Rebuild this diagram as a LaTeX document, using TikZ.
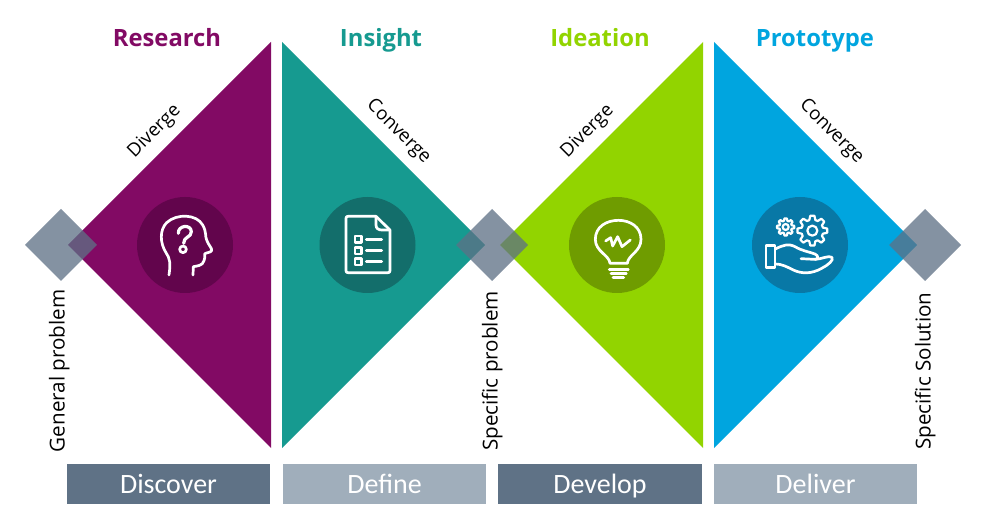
\documentclass[tikz,border=0pt]{standalone}
\usepackage{fontspec}
\setmainfont{Open Sans}
\newfontfamily\barfont{Carlito}
\definecolor{cpurple}{HTML}{820A64}
\definecolor{cteal}{HTML}{169A90}
\definecolor{cgreen}{HTML}{92D400}
\definecolor{cblue}{HTML}{00A5DF}
\definecolor{dpurple}{HTML}{62054C}
\definecolor{dteal}{HTML}{136E6B}
\definecolor{dgreen}{HTML}{6F9C00}
\definecolor{dblue}{HTML}{0878A6}
\definecolor{cdark}{HTML}{5F7286}
\definecolor{clight}{HTML}{A0AEBB}
\definecolor{cdiam}{HTML}{5E7186}
\tikzset{
  diam/.style={fill=cdiam,fill opacity=.76,draw=none},
  barbox/.style={minimum width=203.5pt,minimum height=40pt,inner sep=0pt,text=white,anchor=center,text height=18pt,text depth=0pt,font=\barfont\fontsize{28}{28}\selectfont},
  headlab/.style={font=\bfseries\fontsize{23.8}{23.8}\selectfont,inner sep=0pt,anchor=mid},
  sidelab/.style={font=\fontsize{20.6}{20.6}\selectfont,inner sep=0pt,text=black,anchor=mid},
  toplab/.style={font=\fontsize{18.6}{18.6}\selectfont,inner sep=0pt,text=black,anchor=mid},
  disc/.style={circle,minimum size=96pt,inner sep=0pt},
  icon/.style={draw=white,line width=2.7pt,line cap=round,line join=round,fill=none},
  zoomed/.style={shift={#1},x=.33333pt,y=-.33333pt}
}
\newcommand{\gearpath}[4]{% centre x,y, outer r, inner r
  \draw[icon,line width=2.2pt,shift={(#1,#2)}] (-8:#3)
  \foreach \a in {0,45,...,315}{
    -- ({\a+8}:#3) -- ({\a+16}:#4) -- ({\a+29}:#4) -- ({\a+37}:#3)
  } -- cycle;
}
\begin{document}
\begin{tikzpicture}[x=1pt,y=-1pt]
\useasboundingbox (0,0) rectangle (983,529);
\fill[white] (0,0) rectangle (983,529);
% triangles
\fill[cpurple] (271,42) -- (271,448) -- (68,245) -- cycle;
\fill[cteal] (282,42) -- (282,448) -- (485,245) -- cycle;
\fill[cgreen] (703,42) -- (703,448) -- (500,245) -- cycle;
\fill[cblue] (714,42) -- (714,448) -- (917,245) -- cycle;
% diamonds
\fill[diam] (61,209) -- (97,245) -- (61,281) -- (25,245) -- cycle;
\fill[diam] (492,209) -- (528,245) -- (492,281) -- (456,245) -- cycle;
\fill[diam] (925,209) -- (961,245) -- (925,281) -- (889,245) -- cycle;
% discs
\node[disc,fill=dpurple] (d1) at (185,245) {};
\node[disc,fill=dteal] (d2) at (367.5,245) {};
\node[disc,fill=dgreen] (d3) at (617,245) {};
\node[disc,fill=dblue] (d4) at (800,245) {};
% head icon
\begin{scope}[zoomed={(20,180)}]
\draw[icon] (447,285) .. controls (452,250) and (450,235) .. (438,218)
  .. controls (420,190) and (418,150) .. (440,128)
  .. controls (470,100) and (530,102) .. (548,135)
  .. controls (560,155) and (555,170) .. (560,180)
  .. controls (565,195) and (577,205) .. (575,212)
  .. controls (572,218) and (556,218) .. (554,222)
  .. controls (552,230) and (558,235) .. (552,242)
  .. controls (548,258) and (530,258) .. (520,260)
  -- (519,285);
\draw[icon,line width=3.2pt] (475,160) .. controls (474,135) and (513,132) .. (514,155)
  .. controls (515,172) and (490,170) .. (491,190);
\draw[icon] (489,208) circle[radius=10];
\end{scope}
% document icon
\begin{scope}[zoomed={(300,180)}]
\draw[icon] (228,109) -- (144,109) .. controls (140,109) and (138,111) .. (138,115)
  -- (138,272) .. controls (138,276) and (140,278) .. (144,278)
  -- (264,278) .. controls (268,278) and (270,276) .. (270,272) -- (270,150) -- cycle;
\draw[icon] (228,112) -- (228,135) .. controls (228,145) and (235,150) .. (245,150) -- (268,150);
\foreach \y in {178,212,245}{
  \draw[icon] (165,\y-10) rectangle (185,\y+10);
  \draw[icon] (199,\y) -- (245,\y);
}
\end{scope}
% bulb icon
\begin{scope}[zoomed={(550,180)}]
\draw[icon] (180,250) .. controls (178,225) and (136,215) .. (136,178)
  .. controls (136,140) and (170,121) .. (205,121)
  .. controls (240,121) and (273,140) .. (273,178)
  .. controls (273,215) and (234,225) .. (232,250) -- cycle;
\draw[icon] (167,183) -- (182,173) -- (188,198) -- (203,170) -- (216,200) -- (241,180);
\draw[icon] (178,268) -- (235,268);
\draw[icon] (183,280) -- (229,280);
\draw[icon] (189,292) -- (221,292);
\end{scope}
% hand icon
\begin{scope}[zoomed={(740,180)}]
\gearpath{137}{141}{26}{19}
\draw[icon,line width=2.2pt] (137,141) circle[radius=9];
\gearpath{217}{152}{45}{33}
\draw[icon,line width=2.2pt] (217,152) circle[radius=15];
\draw[icon] (78,197) -- (105,197) -- (105,262) -- (78,262) -- cycle;
\draw[icon] (106,207) .. controls (130,195) and (145,190) .. (165,200)
  .. controls (185,212) and (205,215) .. (225,222)
  .. controls (238,228) and (235,240) .. (222,238)
  -- (183,236);
\draw[icon] (225,238) .. controls (245,238) and (265,225) .. (276,232)
  .. controls (282,240) and (265,255) .. (245,265)
  .. controls (215,282) and (185,282) .. (160,270)
  .. controls (140,260) and (125,252) .. (106,252);
\end{scope}
% headings
\node[headlab,text=cpurple] (h1) at (167,44) {Research};
\node[headlab,text=cteal] (h2) at (381,44) {Insight};
\node[headlab,text=cgreen] (h3) at (600,44) {Ideation};
\node[headlab,text=cblue] (h4) at (815,44) {Prototype};
% slope labels
\node[toplab,rotate=45] (t1) at (156,133) {Diverge};
\node[toplab,rotate=-45] (t2) at (397,133) {Converge};
\node[toplab,rotate=45] (t3) at (589,133) {Diverge};
\node[toplab,rotate=-45] (t4) at (830,133) {Converge};
% side labels
\node[sidelab,rotate=90] (s1) at (62,371) {General problem};
\node[sidelab,rotate=90] (s2) at (495,371) {Specific problem};
\node[sidelab,rotate=90] (s3) at (928,371) {Specific Solution};
% bars
\node[barbox,fill=cdark] (b1) at (168.5,484) {Discover};
\node[barbox,fill=clight] (b2) at (384.5,484) {Define};
\node[barbox,fill=cdark] (b3) at (600,484) {Develop};
\node[barbox,fill=clight] (b4) at (815.5,484) {Deliver};
\end{tikzpicture}
\end{document}
